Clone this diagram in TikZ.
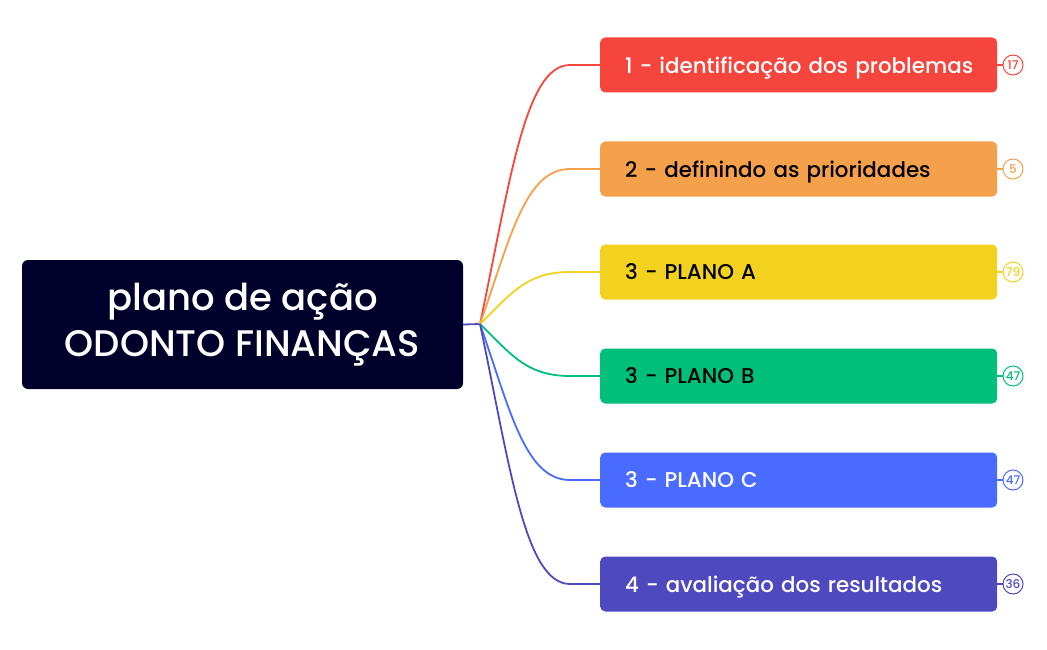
\documentclass[tikz,border=0pt]{standalone}
\usepackage{fontspec}
\setmainfont{Poppins Medium}
\definecolor{cA}{HTML}{F5453D}
\definecolor{cB}{HTML}{F5A04A}
\definecolor{cC}{HTML}{F2D21F}
\definecolor{cD}{HTML}{00BF7A}
\definecolor{cE}{HTML}{4A6BFF}
\definecolor{cF}{HTML}{4F49C0}
\definecolor{navy}{HTML}{00002A}
\begin{document}
\begin{tikzpicture}[x=1pt,y=-1pt,
 br/.style={rounded corners=5pt,minimum width=397pt,minimum height=55pt,anchor=west,text width=347pt,align=left,font=\fontsize{21.4}{24}\selectfont,inner sep=0pt,text depth=0pt},
 badge/.style={circle,draw,line width=1pt,fill=white,minimum size=20pt,inner sep=0pt,font=\fontsize{12}{12}\selectfont},
 conn/.style={line width=1.8pt}]
\useasboundingbox (0,0) rectangle (1047,650);
\node[fill=navy,rounded corners=6pt,minimum width=441pt,minimum height=129pt,text=white,align=center,font=\fontsize{31}{46}\selectfont,inner sep=0pt] (root) at (242.5,324.5) {\fontsize{37}{46}\selectfont plano de ação\\\fontsize{37}{46}\selectfont ODONTO FINANÇAS};
\coordinate (hub) at (480,324);
\draw[conn,cF] (root.east) -- (hub);
\foreach \n/\y/\c/\t/\tx/\num in {a/65/cA/white/1 - identificação dos problemas/17,
 b/169/cB/black/2 - definindo as prioridades/5,
 c/272/cC/black/3 - PLANO A/79,
 d/376/cD/black/3 - PLANO B/47,
 e/480/cE/white/3 - PLANO C/47,
 f/584/cF/white/4 - avaliação dos resultados/36}{
 \node[br,fill=\c,text=\t] (\n) at (600,\y) {\mbox{\tx}\hfill};
 \node[badge,draw=\c,text=\c] (\n b) at (1013,\y) {\num};
 \draw[conn,\c] (\n b) -- (\n.east);
 \draw[conn,\c] (hub) .. controls (510,{324+(\y-324)*0.55}) and (525,\y) .. (570,\y) -- (\n.west);
}
\end{tikzpicture}
\end{document}
